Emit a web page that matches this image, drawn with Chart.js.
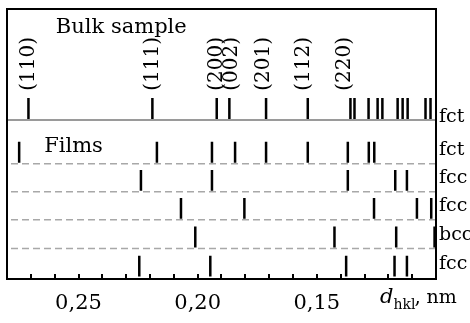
<!DOCTYPE html>
<html>
<head>
<meta charset="utf-8">
<script src="https://cdn.jsdelivr.net/npm/chart.js@4"></script>
<style>
  body { margin: 0; background: #fff; }
  #wrap { width: 470px; height: 323px; }
</style>
</head>
<body>
<div id="wrap"><canvas id="chart"></canvas></div>
<script>
// Phase of each row, from the bulk row at the top down to the last film
const rowLabels = ["fct", "fct", "fcc", "fcc", "bcc", "fcc"];

// d_hkl (nm) of the reflections in each row
const bulkFct = [0.271, 0.219, 0.192, 0.1867, 0.1713, 0.1538, 0.1359, 0.1342,
  0.1283, 0.1245, 0.1225, 0.1161, 0.114, 0.1119, 0.1044, 0.1023];
const filmFct = [0.2749, 0.2171, 0.194, 0.1843, 0.1713, 0.1538, 0.137, 0.1282, 0.1259];
const filmFcc1 = [0.2238, 0.194, 0.137, 0.1171, 0.1122];
const filmFcc2 = [0.207, 0.1804, 0.126, 0.108, 0.102];
const filmBcc = [0.201, 0.1426, 0.1167, 0.1006];
const filmFcc3 = [0.2245, 0.1947, 0.1377, 0.1174, 0.1122];

// Miller indices written above the bulk lines
const hklLabels = ["(110)", "(111)", "(200)", "(002)", "(201)", "(112)", "(220)"];
const hklD = [0.271, 0.219, 0.1919, 0.1855, 0.1724, 0.1556, 0.1384];

// x axis labels
const xTickValues = [0.25, 0.2, 0.15];
const xTickLabels = ["0,25", "0,20", "0,15"];

const rowSeries = [bulkFct, filmFct, filmFcc1, filmFcc2, filmBcc, filmFcc3];

// row layout in y units (bottom of each row)
const rowBase = [5.89, 4.27, 3.23, 2.19, 1.13, 0.05];
const SERIF = "'DejaVu Serif', serif";

function stickData(ds, base) {
  const out = [];
  ds.forEach(function (d) {
    out.push({ x: d, y: base + 0.04 }, { x: d, y: base + 0.81 }, { x: d, y: null });
  });
  return out;
}

function hLine(yv) {
  return [{ x: 0.1, y: yv }, { x: 0.28, y: yv }];
}

const datasets = rowSeries.map(function (ds, i) {
  return {
    data: stickData(ds, rowBase[i]),
    borderColor: "#000",
    borderWidth: 2.5,
    pointRadius: 0,
    spanGaps: false,
    tension: 0,
  };
});

// solid line under the bulk row, dashed ones between the films
datasets.push({
  data: hLine(rowBase[0]),
  borderColor: "#9a9a9a",
  borderWidth: 2,
  pointRadius: 0,
});
rowBase.slice(1, 5).forEach(function (b) {
  datasets.push({
    data: hLine(b),
    borderColor: "#a8a8a8",
    borderWidth: 1.5,
    borderDash: [7, 4],
    pointRadius: 0,
  });
});

const annotate = {
  id: "annotate",
  afterDatasetsDraw(chart) {
    const ctx = chart.ctx;
    const a = chart.chartArea;
    const x = chart.scales.x;
    const y = chart.scales.y;
    ctx.save();

    // frame
    ctx.strokeStyle = "#000";
    ctx.lineWidth = 2;
    ctx.strokeRect(a.left, a.top, a.right - a.left, a.bottom - a.top);

    ctx.fillStyle = "#000";
    ctx.font = "21px " + SERIF;
    ctx.textAlign = "left";
    ctx.textBaseline = "alphabetic";
    ctx.fillText("Bulk sample", x.getPixelForValue(0.2595), y.getPixelForValue(9.1));
    ctx.fillText("Films", x.getPixelForValue(0.2644), y.getPixelForValue(4.69));

    // hkl, rotated
    ctx.font = "20px " + SERIF;
    ctx.textBaseline = "middle";
    hklLabels.forEach(function (t, i) {
      ctx.save();
      ctx.translate(x.getPixelForValue(hklD[i]), y.getPixelForValue(6.97));
      ctx.rotate(-Math.PI / 2);
      ctx.fillText(t, 0, 0);
      ctx.restore();
    });

    // phase names on the right
    ctx.font = "19px " + SERIF;
    rowLabels.forEach(function (t, i) {
      const yv = i === 0 ? rowBase[0] + 0.1 : rowBase[i] + 0.5;
      ctx.fillText(t, a.right + 3, y.getPixelForValue(yv));
    });

    // axis title d_hkl, nm
    ctx.textBaseline = "alphabetic";
    let tx = a.right - 56;
    const by = a.bottom + 24;
    ctx.font = "italic 21px " + SERIF;
    ctx.fillText("d", tx, by);
    tx += ctx.measureText("d").width;
    ctx.font = "14px " + SERIF;
    ctx.fillText("hkl", tx, by + 6);
    tx += ctx.measureText("hkl").width - 1;
    ctx.font = "20px " + SERIF;
    ctx.fillText(",", tx, by);
    ctx.font = "19px " + SERIF;
    ctx.fillText("nm", tx + 12, by);

    ctx.restore();
  },
};

new Chart(document.getElementById("chart"), {
  type: "line",
  data: { datasets: datasets },
  options: {
    responsive: true,
    maintainAspectRatio: false,
    animation: false,
    layout: { padding: { left: 7, right: 34, top: 9, bottom: 7 } },
    plugins: {
      legend: { display: false },
      tooltip: { enabled: false },
    },
    scales: {
      x: {
        type: "linear",
        reverse: true,
        min: 0.1,
        max: 0.28,
        afterFit: function (scale) {
          scale.height = 37;
          scale.paddingLeft = 0;
          scale.paddingRight = 0;
        },
        grid: {
          drawOnChartArea: false,
          tickLength: -5,
          color: "#000",
          lineWidth: 2,
        },
        border: { display: true, color: "#000", width: 2 },
        ticks: {
          stepSize: 0.01,
          autoSkip: false,
          maxRotation: 0,
          padding: 17,
          color: "#000",
          font: { family: SERIF, size: 21 },
          callback: function (v) {
            const k = xTickValues.findIndex(function (t) {
              return Math.abs(t - v) < 1e-6;
            });
            return k >= 0 ? xTickLabels[k] : "";
          },
        },
      },
      y: {
        display: false,
        min: 0,
        max: 10,
      },
    },
  },
  plugins: [annotate],
});
</script>
</body>
</html>
